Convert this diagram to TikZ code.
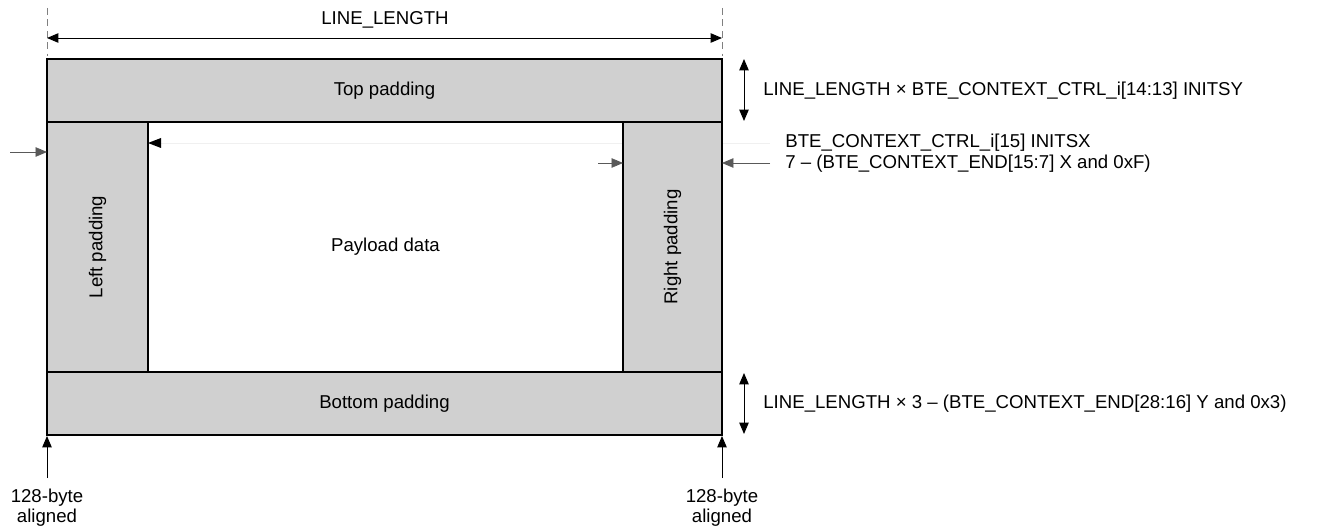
\documentclass[tikz,border=0pt]{standalone}
\usepackage{fontspec}
\setmainfont{Liberation Sans}
\usetikzlibrary{arrows.meta}
\definecolor{padgray}{HTML}{D0D0D0}
\tikzset{
    pad/.style={fill=padgray, draw=black, line width=0.75pt},
    lbl/.style={font=\fontsize{10.6}{11.3}\selectfont, inner sep=0pt},
    tip/.style={-{Triangle[length=6.5pt, width=5.4pt]}},
    dimline/.style={{Triangle[length=6.5pt, width=5.4pt]}-{Triangle[length=6.5pt, width=5.4pt]}, line width=0.55pt},
    guide/.style={gray, dashed, dash pattern=on 4pt off 2.5pt, line width=0.5pt}
}
\begin{document}
\begin{tikzpicture}[x=0.02cm, y=-0.02cm]
    \useasboundingbox (0,0) rectangle (1323,527);
    % faint guide of the left padding width
    \coordinate (px0) at (770,143); \coordinate (px1) at (148,143);
    \draw[gray!12, line width=0.4pt] (px0) -- (px1);
    % frame of the buffer
    \filldraw[pad] (47,59) rectangle (722,122);
    \filldraw[pad] (47,122) rectangle (148,372);
    \filldraw[pad] (623,122) rectangle (722,372);
    \filldraw[pad] (47,372) rectangle (722,435);
    \draw[line width=0.75pt] (148,122) rectangle (623,372);
    \node[lbl] (top) at (384.5,90.5) {Top padding};
    \node[lbl, rotate=90] (left) at (97.5,247) {Left padding};
    \node[lbl, rotate=90] (right) at (672.5,247) {Right padding};
    \node[lbl] (bottom) at (384.5,403.5) {Bottom padding};
    \node[lbl] (payload) at (385.5,247) {Payload data};
    % line length
    \coordinate (g1a) at (47,8);   \coordinate (g1b) at (47,56);
    \coordinate (g2a) at (722,8);  \coordinate (g2b) at (722,56);
    \draw[guide] (g1a) -- (g1b);
    \draw[guide] (g2a) -- (g2b);
    \coordinate (ll1) at (47,38);  \coordinate (ll2) at (722,38);
    \draw[dimline] (ll1) -- (ll2);
    \node[lbl] (linelen) at (385,20) {LINE\_LENGTH};
    % top padding height
    \coordinate (ty1) at (744,59); \coordinate (ty2) at (744,121);
    \draw[dimline] (ty1) -- (ty2);
    \node[lbl, anchor=west] (initsy) at (763,90.5)
        {LINE\_LENGTH × BTE\_CONTEXT\_CTRL\_i[14:13] INITSY};
    % left and right padding widths
    \coordinate (lx0) at (10,152);  \coordinate (lx1) at (47,152);
    \draw[tip, gray!70!black, line width=0.4pt] (lx0) -- (lx1);
    \fill (px1) -- ++(13,-5) -- ++(0,10) -- cycle;
    \coordinate (rx0) at (598,163); \coordinate (rx1) at (623,163);
    \draw[tip, gray!70!black, line width=0.4pt] (rx0) -- (rx1);
    \coordinate (rx2) at (770,163); \coordinate (rx3) at (722,163);
    \draw[tip, gray!70!black, line width=0.4pt] (rx2) -- (rx3);
    \node[lbl, anchor=west] (initsx) at (785,143) {BTE\_CONTEXT\_CTRL\_i[15] INITSX};
    \node[lbl, anchor=west] (endx) at (785,164) {7 – (BTE\_CONTEXT\_END[15:7] X and 0xF)};
    % bottom padding height
    \coordinate (by1) at (744,373); \coordinate (by2) at (744,434);
    \draw[dimline] (by1) -- (by2);
    \node[lbl, anchor=west] (endy) at (763,403.5)
        {LINE\_LENGTH × 3 – (BTE\_CONTEXT\_END[28:16] Y and 0x3)};
    % alignment marks
    \foreach \x/\n in {47/a, 722/b} {
        \coordinate (al\n0) at (\x,478);
        \coordinate (al\n1) at (\x,436);
        \draw[tip, line width=0.5pt] (al\n0) -- (al\n1);
        \node[lbl, align=center] (algn\n) at (\x,508) {128-byte\\aligned};
    }
\end{tikzpicture}
\end{document}
